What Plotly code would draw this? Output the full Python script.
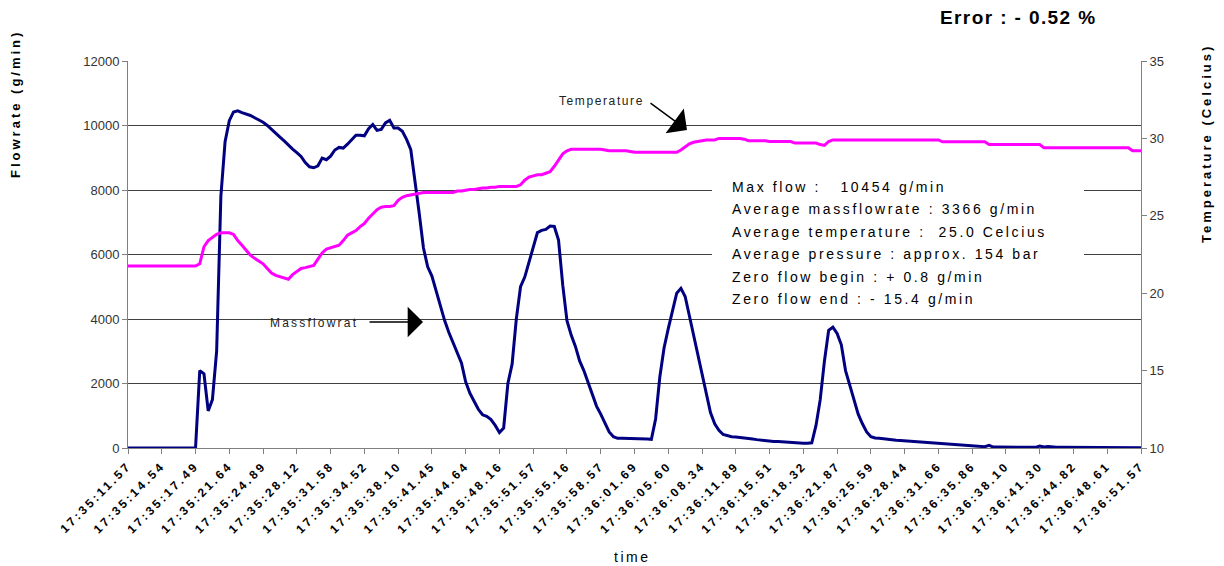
import plotly.graph_objects as go

# Mass flow rate (g/min), one reading per sample
flow = (
    [0] * 17
    + [2400, 2300, 1150, 1500, 3000, 7800, 9500, 10150, 10420, 10454,
       10400, 10360, 10310, 10240, 10170, 10100, 10000, 9890, 9780, 9640,
       9520, 9380, 9270, 9160, 9040, 8850, 8720, 8690, 8750, 8990,
       8940, 9050, 9240, 9320, 9300, 9420, 9550, 9700, 9700, 9680,
       9900, 10030, 9850, 9880, 10080, 10160, 9920, 9920, 9820, 9570,
       9250, 8310, 7270, 6200, 5620, 5330, 4880, 4390, 3960, 3590,
       3280, 2960, 2640, 2050, 1700, 1450, 1200, 1030, 980, 880,
       700, 480, 620, 2000, 2600, 4000, 5000, 5300, 5750, 6150,
       6680, 6750, 6780, 6880, 6870, 6450, 5050, 3950, 3500, 3150,
       2700, 2400, 2050, 1700, 1300, 1050, 800, 500, 350, 300]
    + [300] * 6
    + [280, 270, 900, 2200, 3100, 3700, 4300, 4800, 4950, 4700,
       4100, 3500, 2900, 2300, 1700, 1100, 750, 550, 420, 380,
       350, 340, 330, 300, 290, 280, 260, 240, 220, 210,
       200, 200, 190, 180, 160, 150, 150, 150, 150, 160,
       700, 1500, 2700, 3650, 3750, 3550, 3200, 2400, 1950, 1500,
       1050, 750, 500, 350, 310, 300, 280, 260,
       250, 240, 230, 220, 210, 200, 190, 180, 170, 160, 150, 140,
       130, 120, 110, 100, 90, 80, 70, 60, 50, 50, 40, 80,
       30, 30, 30, 30, 20, 20, 20, 20, 20, 20, 20, 60,
       30, 50, 30, 20, 20, 20, 20, 20, 20, 20, 20, 20,
       20, 20, 20, 10, 10, 10, 10, 10, 10, 10, 10, 10]
)

# Temperature (Celcius), same samples
temperature = (
    [21.75] * 17
    + [21.9, 23.0, 23.4, 23.6, 23.8, 23.9, 23.9, 23.9, 23.8, 23.4,
       23.1, 22.8, 22.45, 22.25, 22.05, 21.9, 21.6, 21.3, 21.15, 21.05,
       20.95, 20.9, 21.2, 21.4, 21.6, 21.65, 21.7, 21.8, 22.2, 22.6,
       22.85, 22.95, 23.0, 23.1, 23.4, 23.75, 23.9, 24.05, 24.3, 24.5,
       24.85, 25.15, 25.4, 25.55, 25.6, 25.6, 25.65, 26.0, 26.2, 26.3,
       26.35, 26.4, 26.45]
    + [26.5] * 8
    + [26.6, 26.6, 26.65, 26.7, 26.7, 26.75, 26.8, 26.8, 26.85, 26.85]
    + [26.9] * 5
    + [27.0, 27.3, 27.5, 27.6, 27.65, 27.65, 27.75, 27.85, 28.2, 28.6,
       29.0, 29.2, 29.3]
    + [29.3] * 7
    + [29.25]
    + [29.2] * 5
    + [29.15]
    + [29.1] * 11
    + [29.25, 29.45, 29.65, 29.75, 29.8, 29.85]
    + [29.9] * 3
    + [30.0] * 6
    + [29.95]
    + [29.85] * 5
    + [29.8] * 6
    + [29.7] * 6
    + [29.6, 29.55, 29.8]
    + [29.9] * 26
    + [29.78] * 11
    + [29.6] * 13
    + [29.4] * 21
    + [29.2] * 3
)

assert len(flow) == 241 and len(temperature) == 241
sample = list(range(len(flow)))

# Clock time shown under every 8th sample
time_labels = [
    "17:35:11.57", "17:35:14.54", "17:35:17.49", "17:35:21.64", "17:35:24.89",
    "17:35:28.12", "17:35:31.58", "17:35:34.52", "17:35:38.10", "17:35:41.45",
    "17:35:44.64", "17:35:48.16", "17:35:51.57", "17:35:55.16", "17:35:58.57",
    "17:36:01.69", "17:36:05.60", "17:36:08.34", "17:36:11.89", "17:36:15.51",
    "17:36:18.32", "17:36:21.87", "17:36:25.59", "17:36:28.44", "17:36:31.66",
    "17:36:35.86", "17:36:38.10", "17:36:41.30", "17:36:44.82", "17:36:48.61",
    "17:36:51.57",
]
label_step = 8
tick_positions = sample[::label_step]

summary_lines = [
    "Max flow : &nbsp;&nbsp;10454 g/min",
    "Average massflowrate : 3366 g/min",
    "Average temperature : &nbsp;25.0 Celcius",
    "Average pressure : approx. 154 bar",
    "Zero flow begin : + 0.8 g/min",
    "Zero flow end : - 15.4 g/min",
]

FONT = "Liberation Sans, Arial, sans-serif"


def spaced(text, px):
    return f'<span style="letter-spacing:{px}px">{text}</span>'


fig = go.Figure()
fig.add_trace(go.Scatter(
    x=sample, y=flow, mode="lines", name="Massflowrate",
    line=dict(color="#000080", width=3), yaxis="y",
))
fig.add_trace(go.Scatter(
    x=sample, y=temperature, mode="lines", name="Temperature",
    line=dict(color="#FF00FF", width=3), yaxis="y2",
))

# plot area edges in pixels
L, R, T, B = 128, 1141, 61, 448
W, H = 1224, 566


def px(xp):
    return (xp - L) / (R - L)


def py(yp):
    return (B - yp) / (B - T)


annotations = []
# summary block
for k, line in enumerate(summary_lines):
    annotations.append(dict(
        xref="paper", yref="paper", x=px(730), y=py(187 + 22.4 * k),
        xanchor="left", yanchor="middle", showarrow=False,
        text=spaced(line, 2.6), font=dict(family=FONT, size=14, color="black"),
    ))

# axis titles and headline
annotations += [
    dict(xref="paper", yref="paper", x=px(15), y=py(104), textangle=-90,
         showarrow=False, xanchor="center", yanchor="middle",
         text=spaced("<b>Flowrate (g/min)</b>", 3),
         font=dict(family=FONT, size=13, color="black")),
    dict(xref="paper", yref="paper", x=px(1206), y=py(144), textangle=-90,
         showarrow=False, xanchor="center", yanchor="middle",
         text=spaced("<b>Temperature (Celcius)</b>", 3),
         font=dict(family=FONT, size=13, color="black")),
    dict(xref="paper", yref="paper", x=px(1018), y=py(18),
         showarrow=False, xanchor="center", yanchor="middle",
         text=spaced("<b>Error : - 0.52 %</b>", 1.4),
         font=dict(family=FONT, size=19, color="black")),
    dict(xref="paper", yref="paper", x=px(632), y=py(557),
         showarrow=False, xanchor="center", yanchor="middle",
         text=spaced("time", 2.5),
         font=dict(family=FONT, size=14, color="black")),
    # series callouts
    dict(xref="paper", yref="paper", x=px(557), y=py(101),
         showarrow=False, xanchor="left", yanchor="middle",
         text=spaced("Temperature", 1.6),
         font=dict(family=FONT, size=12, color="#222")),
    dict(xref="paper", yref="paper", x=px(268), y=py(323),
         showarrow=False, xanchor="left", yanchor="middle",
         text=spaced("Massflowrat", 2.2),
         font=dict(family=FONT, size=12, color="#222")),
    dict(xref="paper", yref="paper", x=px(687), y=py(130), text="",
         showarrow=True, arrowhead=1, arrowsize=3.4, arrowwidth=1.5,
         arrowcolor="black", ax=-38, ay=-28),
    dict(xref="paper", yref="paper", x=px(423), y=py(322), text="",
         showarrow=True, arrowhead=1, arrowsize=3.4, arrowwidth=1.5,
         arrowcolor="black", ax=-55, ay=0),
]

fig.update_layout(
    width=W, height=H,
    margin=dict(l=L, r=W - R, t=T, b=H - B, pad=0),
    paper_bgcolor="white", plot_bgcolor="white",
    showlegend=False,
    font=dict(family=FONT, size=13, color="#333"),
    xaxis=dict(
        range=[0, len(sample) - 1], tickmode="array",
        tickvals=tick_positions,
        ticktext=[spaced(t, 2.8) for t in time_labels],
        tickangle=-45, ticks="outside", ticklen=5, tickcolor="#808080",
        tickfont=dict(family=FONT, size=12, color="black", weight="bold"),
        showgrid=False, zeroline=False,
        showline=True, linecolor="#808080", linewidth=1,
    ),
    yaxis=dict(
        range=[0, 12000], dtick=2000, tickmode="linear", tickformat="d",
        ticks="outside", ticklen=5, tickcolor="#808080",
        tickfont=dict(family=FONT, size=13, color="#333"),
        showgrid=True, gridcolor="#404040", gridwidth=1,
        zeroline=False, showline=True, linecolor="#808080", linewidth=1,
    ),
    yaxis2=dict(
        range=[10, 35], dtick=5, tickmode="linear",
        overlaying="y", side="right",
        ticks="outside", ticklen=5, tickcolor="#808080",
        tickfont=dict(family=FONT, size=13, color="#333"),
        showgrid=False, zeroline=False,
        showline=True, linecolor="#808080", linewidth=1,
    ),
    shapes=[dict(
        type="rect", xref="paper", yref="paper",
        x0=px(712), x1=px(1084), y0=py(312), y1=py(168),
        fillcolor="white", line=dict(width=0), layer="above",
    )],
    annotations=annotations,
)

fig.write_html("out.html")
